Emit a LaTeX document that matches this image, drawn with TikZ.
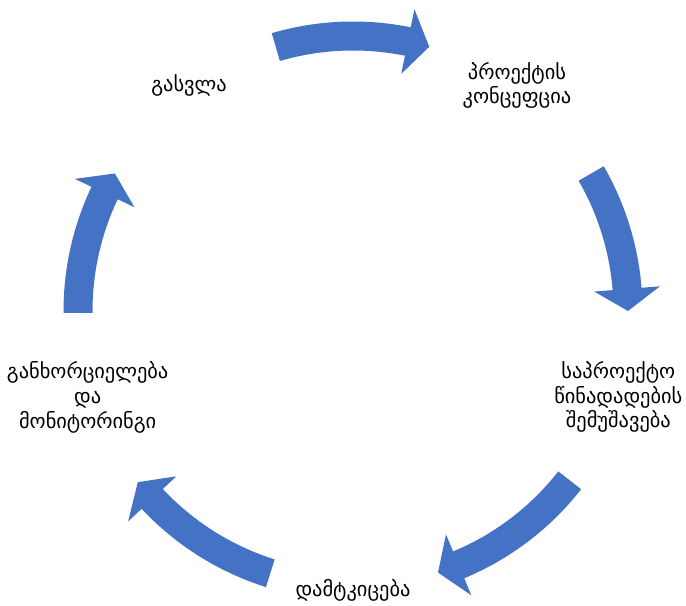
\documentclass[tikz,border=0pt]{standalone}
\usepackage{fontspec}
\newfontfamily\geo{DejaVu Sans}
\usetikzlibrary{calc}
\definecolor{accentblue}{HTML}{4472C4}
\newcommand\cycarrow[2]{% #1 tail angle, #2 tip angle (clockwise)
  \pgfmathsetmacro\hb{#2+4.6}%
  \fill[cyclearrow] ($(C)+(#1:289.5)$) arc[start angle=#1, end angle=\hb, radius=289.5]
    -- ($(C)+(\hb:308)$) -- ($(C)+(#2:275)$) -- ($(C)+(\hb:242)$)
    -- ($(C)+(\hb:260.5)$) arc[start angle=\hb, end angle=#1, radius=260.5] -- cycle;}
\begin{document}
\begin{tikzpicture}[x=0.75pt,y=0.75pt,
  lbl/.style={font=\geo\fontsize{15.3}{18.5}\selectfont, align=center, text=black, inner sep=0pt},
  cyclearrow/.style={fill=accentblue}]
\useasboundingbox (0,0) rectangle (686,606);
\coordinate (C) at (353,295);
\node[lbl] (n1) at ($(C)+(54:279)$) {პროექტის\\კონცეფცია};
\node[lbl] (n2) at ($(C)+(-18:279)$) {საპროექტო\\წინადადების\\შემუშავება};
\node[lbl] (n3) at ($(C)+(-90:279)$) {დამტკიცება};
\node[lbl] (n4) at ($(C)+(198:279)$) {განხორციელება\\და\\მონიტორინგი};
\node[lbl] (n5) at ($(C)+(126:279)$) {გასვლა};
\cycarrow{106.3}{73.9}
\cycarrow{30}{0}
\cycarrow{-38}{-72}
\cycarrow{-107.5}{-141.5}
\cycarrow{180.4}{150}
\end{tikzpicture}
\end{document}
